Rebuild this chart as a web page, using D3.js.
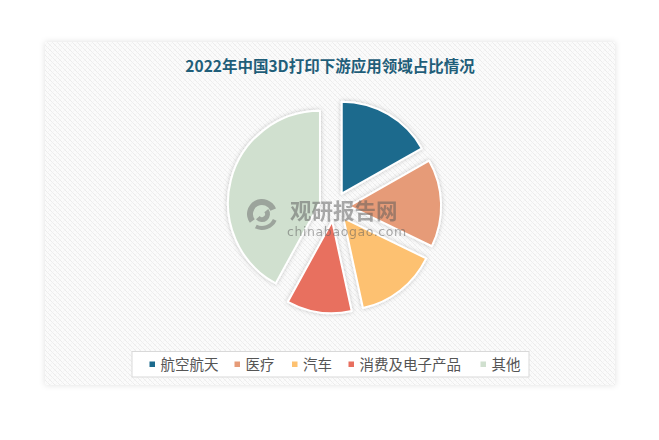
<!DOCTYPE html>
<html>
<head>
<meta charset="utf-8">
<script src="https://cdn.jsdelivr.net/npm/d3@7"></script>
<style>
  html, body { margin: 0; padding: 0; background: #ffffff; }
  svg { display: block; }
</style>
</head>
<body>
<svg id="chart" width="659" height="440"></svg>
<script>
const title = "2022年中国3D打印下游应用领域占比情况";
const categories = ["航空航天", "医疗", "汽车", "消费及电子产品", "其他"];
const shares = [16.8, 15.4, 14.4, 11.4, 42.0];
const colors = ["#1c6a8d", "#e69b78", "#fdc171", "#e86f5f", "#d0e0cf"];

const W = 659, H = 440;
const svg = d3.select("#chart");
const defs = svg.append("defs");

// hatch pattern
const pat = defs.append("pattern").attr("id", "hatch").attr("patternUnits", "userSpaceOnUse")
  .attr("width", 5).attr("height", 5);
pat.append("rect").attr("width", 5).attr("height", 5).attr("fill", "#fbfbfb");
pat.append("path").attr("d", "M0,0 L5,5 M-1,4 L1,6 M4,-1 L6,1").attr("stroke", "#e9e9e9").attr("stroke-width", 0.8);
pat.append("path").attr("d", "M5,0 L0,5").attr("stroke", "#f2f2f2").attr("stroke-width", 0.6);

const panelShadow = defs.append("filter").attr("id", "pshadow").attr("x", "-10%").attr("y", "-10%").attr("width", "120%").attr("height", "120%");
panelShadow.append("feDropShadow").attr("dx", 0).attr("dy", 0).attr("stdDeviation", 3).attr("flood-color", "#000").attr("flood-opacity", 0.12);

const sliceShadow = defs.append("filter").attr("id", "sshadow").attr("x", "-30%").attr("y", "-30%").attr("width", "160%").attr("height", "160%");
sliceShadow.append("feDropShadow").attr("dx", 0).attr("dy", 0).attr("stdDeviation", 2).attr("flood-color", "#000").attr("flood-opacity", 0.22);

// panel
svg.append("rect").attr("x", 45).attr("y", 42).attr("width", 570).attr("height", 343)
  .attr("fill", "url(#hatch)").attr("filter", "url(#pshadow)");

// title
svg.append("text").attr("x", 330).attr("y", 72).attr("text-anchor", "middle")
  .attr("font-family", "'Noto Sans CJK SC', sans-serif").attr("font-weight", "bold")
  .attr("font-size", 15.5).attr("fill", "#1f5e79").text(title);

// pie
const cx = 334.3, cy = 206.5, R = 92, explode = 14.8;
const pie = d3.pie().sort(null).value(d => d).startAngle(0).endAngle(2 * Math.PI);
const arc = d3.arc().innerRadius(0).outerRadius(R);
const arcs = pie(shares);
const g = svg.append("g").attr("transform", `translate(${cx},${cy})`);
g.selectAll("path").data(arcs).join("path")
  .attr("d", arc)
  .attr("transform", d => {
    const m = (d.startAngle + d.endAngle) / 2;
    return `translate(${Math.sin(m) * explode},${-Math.cos(m) * explode})`;
  })
  .attr("fill", (d, i) => colors[i])
  .attr("stroke", "#ffffff").attr("stroke-width", 2).attr("stroke-linejoin", "round")
  .attr("filter", "url(#sshadow)");

// watermark
const wm = svg.append("g").attr("opacity", 0.5);
const lg = wm.append("g").attr("transform", "translate(262,214)");
lg.append("path").attr("d", d3.arc()({innerRadius: 9, outerRadius: 15, startAngle: -2.2, endAngle: 1.2})).attr("fill", "#6a6a6a");
lg.append("path").attr("d", d3.arc()({innerRadius: 3, outerRadius: 8, startAngle: 0.9, endAngle: 4.0})).attr("fill", "#6a6a6a");
lg.append("path").attr("d", d3.arc()({innerRadius: 12, outerRadius: 16, startAngle: 2.0, endAngle: 3.6})).attr("fill", "#6a6a6a");
wm.append("text").attr("x", 290).attr("y", 219).attr("font-family", "'Noto Sans CJK SC', sans-serif")
  .attr("font-weight", "bold").attr("font-size", 21.5).attr("fill", "#5a5a5a").text("观研报告网");
wm.append("text").attr("x", 287).attr("y", 236).attr("font-family", "'DejaVu Sans', sans-serif")
  .attr("font-size", 12.5).attr("letter-spacing", 0.6).attr("fill", "#5a5a5a").text("chinabaogao.com");

// legend
svg.append("rect").attr("x", 132).attr("y", 351.5).attr("width", 397).attr("height", 25.5)
  .attr("fill", "#ffffff").attr("stroke", "#d9d9d9").attr("stroke-width", 1);
const legendX = [152, 237, 294.5, 351, 483];
const lgItems = svg.append("g").selectAll("g").data(categories).join("g")
  .attr("transform", (d, i) => `translate(${legendX[i]},364)`);
lgItems.append("rect").attr("x", -2.5).attr("y", -2.5).attr("width", 5.5).attr("height", 5.5)
  .attr("fill", (d, i) => colors[i]);
lgItems.append("text").attr("x", 8.5).attr("y", 5.5)
  .attr("font-family", "'Noto Sans CJK SC', sans-serif").attr("font-size", 14.5)
  .attr("fill", "#555555").text(d => d);
</script>
</body>
</html>
